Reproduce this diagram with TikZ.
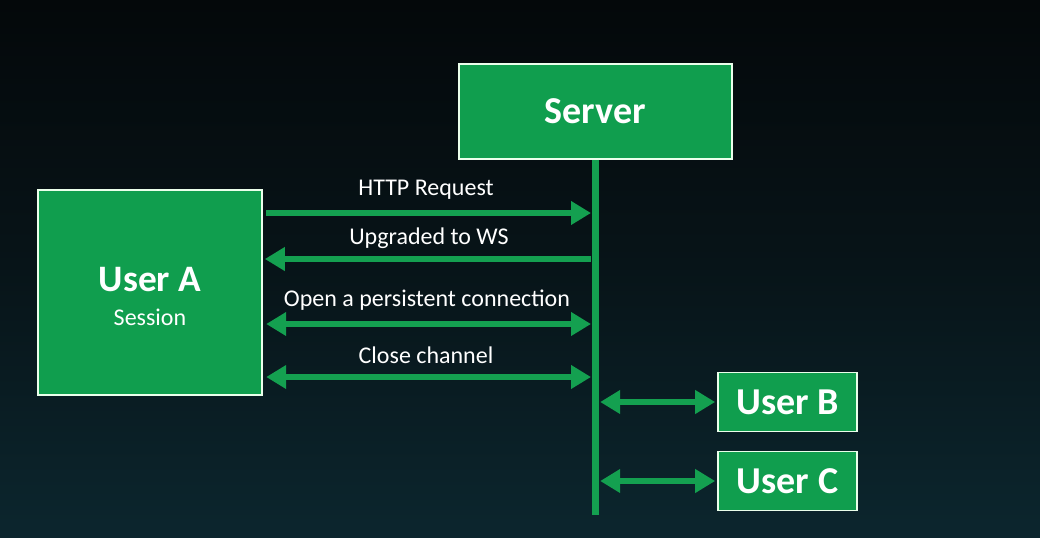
\documentclass[tikz,border=0pt]{standalone}
\usepackage{fontspec}
\setmainfont{Carlito}
\usetikzlibrary{arrows.meta}
\definecolor{wsgreen}{RGB}{16,158,78}
\definecolor{arrgreen}{RGB}{20,160,80}
\definecolor{bgtop}{RGB}{4,8,10}
\definecolor{bgbot}{RGB}{12,38,46}
\tikzset{
  box/.style={draw=white!92!green, line width=1.3pt, fill=wsgreen, text=white, inner sep=0pt, font=\bfseries\fontsize{28.5}{32}\selectfont},
  msg/.style={draw=arrgreen, line width=5.2pt, -{Triangle[length=15pt,width=17pt]}},
  dmsg/.style={draw=arrgreen, line width=5.2pt, {Triangle[length=15pt,width=17pt]}-{Triangle[length=15pt,width=17pt]}},
  lbl/.style={text=white, font=\fontsize{18}{21}\selectfont, inner sep=0pt},
}
\begin{document}
\begin{tikzpicture}[x=0.75pt,y=-0.75pt]
\shade[top color=bgtop, bottom color=bgbot, middle color=bgtop!60!bgbot] (0,0) rectangle (1040,537);
\useasboundingbox (0,0) rectangle (1040,537);
% nodes
\node[box, minimum width=204.75pt, minimum height=71.25pt] (server) at (595.5,111.5) {Server};
\node[box, minimum width=168pt, minimum height=153.75pt] (ua) at (150,292.5) {};
\node[text=white, font=\bfseries\fontsize{28}{32}\selectfont, inner sep=0pt] (uatitle) at (150,280) {User A};
\node[text=white, font=\fontsize{18}{21}\selectfont, inner sep=0pt] (uasess) at (150,317) {Session};
\node[box, minimum width=104.25pt, minimum height=44.25pt] (ub) at (787.5,402) {User B};
\node[box, minimum width=104.25pt, minimum height=44.25pt] (uc) at (787.5,481) {User C};
% server lifeline
\coordinate (sbot) at (595.5,515);
\draw[draw=arrgreen, line width=5.5pt] (server.south) -- (sbot);
% points on lifeline
\coordinate (s1) at (591,213);
\coordinate (s2) at (591,259);
\coordinate (s3) at (591,324);
\coordinate (s4) at (591,377);
% messages
\draw[msg] ([xshift=2.5pt]ua.east |- s1) -- (s1);
\draw[msg] (s2) -- ([xshift=1.5pt]ua.east |- s2);
\draw[dmsg] ([xshift=2.5pt]ua.east |- s3) -- (s3);
\draw[dmsg] ([xshift=2.5pt]ua.east |- s4) -- (s4);
\draw[dmsg] ([xshift=3.5pt]sbot |- ub.west) -- ([xshift=-1.5pt]ub.west);
\draw[dmsg] ([xshift=3.5pt]sbot |- uc.west) -- ([xshift=-1.5pt]uc.west);
% labels
\node[lbl] (l1) at (426,190) {HTTP Request};
\node[lbl] (l2) at (429,238) {Upgraded to WS};
\node[lbl] (l3) at (427,300) {Open a persistent connection};
\node[lbl] (l4) at (426,355) {Close channel};
\end{tikzpicture}
\end{document}
